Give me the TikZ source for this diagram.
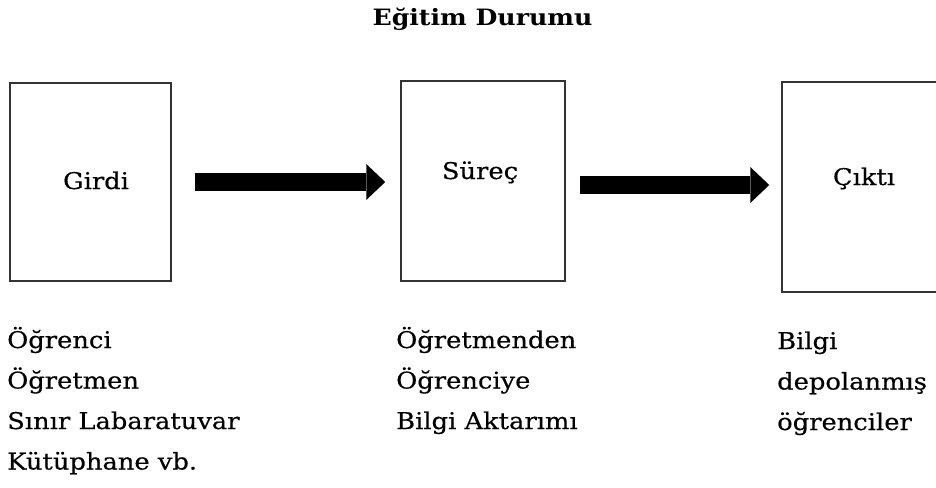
\documentclass[tikz,border=0pt]{standalone}
\usepackage{fontspec}
\setmainfont{DejaVu Serif}[FakeStretch=1.12, UprightFeatures={FakeBold=0.4}]
\usetikzlibrary{arrows.meta}

\begin{document}
\begin{tikzpicture}[x=1pt, y=-1pt,
  stage/.style={draw=black!80, line width=1.5pt, inner sep=0pt, fill=white},
  lbl/.style={inner sep=0pt, anchor=base, font=\fontsize{23}{27}\selectfont},
  note/.style={inner sep=0pt, anchor=base west, font=\fontsize{23}{27}\selectfont},
  flow/.style={line width=18pt,
    -{Triangle[length=19pt, width=36pt, line width=0pt]}}]

  \useasboundingbox (0,0) rectangle (936,487);
  \fill[white] (0,0) rectangle (936,487);
  \clip (0,0) rectangle (936,487);

  % title
  \node[inner sep=0pt, anchor=base, font=\bfseries\fontsize{22.5}{27}\selectfont]
    (title) at (482.5,26) {Eğitim Durumu};

  % the three stages
  \node[stage, minimum width=161pt, minimum height=198pt] (girdi) at (90.5,182) {};
  \node[stage, minimum width=164pt, minimum height=200pt] (surec) at (483,181) {};
  \node[stage, minimum width=164pt, minimum height=210pt] (cikti) at (864,187) {};

  \node[lbl] (girdiT) at (96,189)  {Girdi};
  \node[lbl] (surecT) at (480,179) {Süreç};
  \node[lbl] (ciktiT) at (864,185) {Çıktı};

  % block arrows between stages
  \draw[flow, shorten <=23pt, shorten >=15pt]
    (girdi.east) -- (girdi.east -| surec.west);
  \draw[flow, shorten <=14pt, shorten >=12pt]
    ([yshift=-4pt]surec.east) -- ([yshift=-4pt]surec.east -| cikti.west);

  % descriptions under each stage
  \node[note] (in1) at (7,348)    {Öğrenci};
  \node[note] (in2) at (7,388.5)  {Öğretmen};
  \node[note] (in3) at (7,429)    {Sınır Labaratuvar};
  \node[note] (in4) at (7,469.5)  {Kütüphane vb.};

  \node[note] (pr1) at (396,348)   {Öğretmenden};
  \node[note] (pr2) at (396,388.5) {Öğrenciye};
  \node[note] (pr3) at (396,429)   {Bilgi Aktarımı};

  \node[note] (out1) at (777,349)   {Bilgi};
  \node[note] (out2) at (777,389.5) {depolanmış};
  \node[note] (out3) at (777,430)   {öğrenciler};
\end{tikzpicture}
\end{document}
